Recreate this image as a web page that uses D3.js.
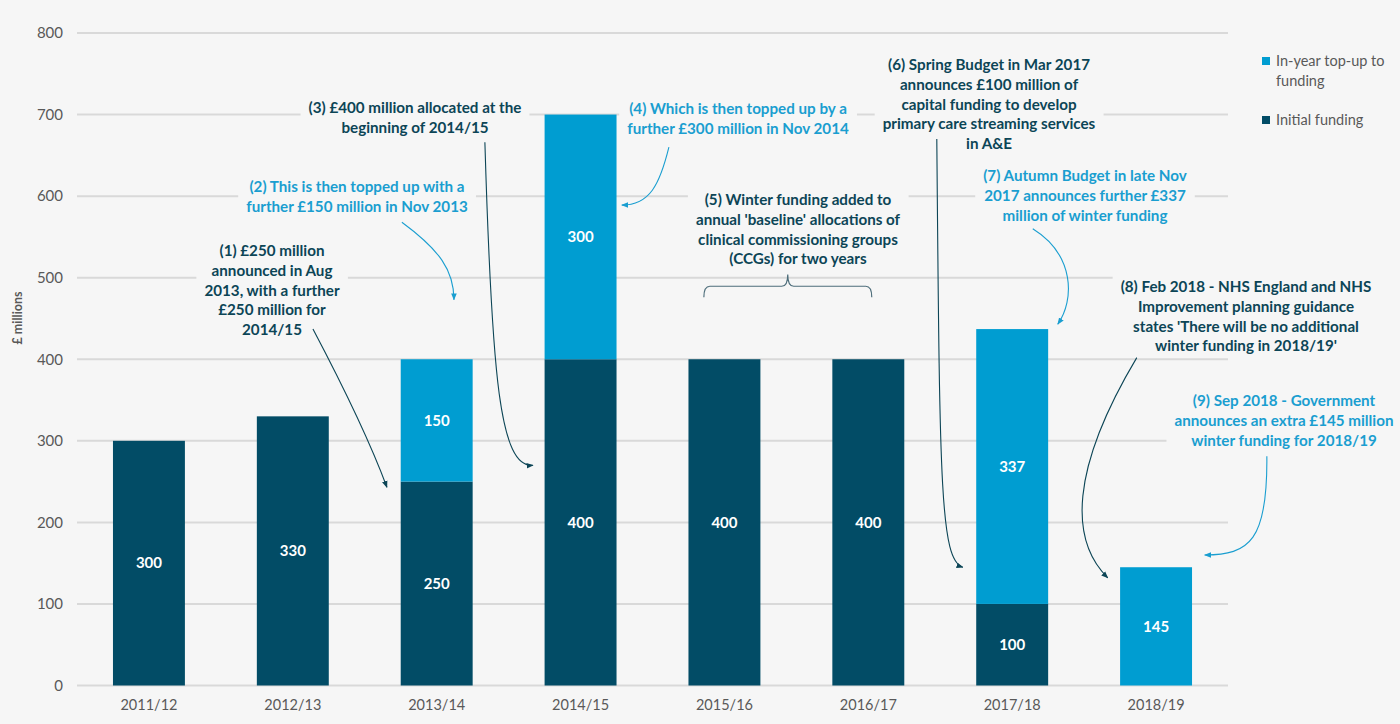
<!DOCTYPE html>
<html lang="en">
<head>
<meta charset="UTF-8">
<title>Winter funding</title>
<style>
  body { margin: 0; background: #f6f6f6; }
  svg { display: block; font-family: Lato, "Open Sans", sans-serif; }
</style>
</head>
<body>
<svg id="chart" width="1400" height="724"></svg>
<script src="https://d3js.org/d3.v7.min.js"></script>
<script>
// data
const categories = ["2011/12", "2012/13", "2013/14", "2014/15", "2015/16", "2016/17", "2017/18", "2018/19"];
const initialFunding = [300, 330, 250, 400, 400, 400, 100, 0];
const topUpFunding = [0, 0, 150, 300, 0, 0, 337, 145];
const yTicks = [0, 100, 200, 300, 400, 500, 600, 700, 800];
const seriesNames = ["In-year top-up to funding", "Initial funding"];

const dark = "#024c66", light = "#009dd1";
const darkText = "#0c4556", lightText = "#1a9ed0", grey = "#595959", bg = "#f6f6f6";

const svg = d3.select("#chart");

const x = d3.scaleBand().domain(categories).range([77, 1228]).paddingInner(0.5).paddingOuter(0.25);
const y = d3.scaleLinear().domain([0, 800]).range([685.5, 33]);
// position by fractional category index (for annotations)
const xi = i => x(categories[0]) + x.bandwidth() / 2 + i * x.step();

// gridlines
svg.append("g").selectAll("line").data(yTicks).join("line")
    .attr("x1", 77).attr("x2", 1228)
    .attr("y1", d => y(d)).attr("y2", d => y(d))
    .attr("stroke", "#d9d9d9").attr("stroke-width", 2);

// y axis labels
const yAxis = svg.append("g").attr("transform", "translate(63,0)")
    .call(d3.axisLeft(y).tickValues(yTicks).tickSize(0).tickPadding(0));
yAxis.select(".domain").remove();
yAxis.selectAll("text").attr("fill", grey).style("font-size", "15px").style("font-family", "Lato");

svg.append("text")
    .attr("transform", "translate(22,318) rotate(-90)")
    .attr("text-anchor", "middle")
    .attr("fill", grey).style("font-size", "12.5px").style("font-weight", "bold")
    .text("£ millions");

// x axis labels
const xAxis = svg.append("g").attr("transform", `translate(0,${y(0)})`)
    .call(d3.axisBottom(x).tickSize(0).tickPadding(14));
xAxis.select(".domain").remove();
xAxis.selectAll("text").attr("fill", grey).style("font-size", "14.5px").style("font-family", "Lato");

// stacked bars
const rows = categories.map((c, i) => ({ cat: c, initial: initialFunding[i], topup: topUpFunding[i] }));
const stack = d3.stack().keys(["initial", "topup"])(rows);
const colour = { initial: dark, topup: light };

const layers = svg.append("g").selectAll("g").data(stack).join("g")
    .attr("fill", d => colour[d.key]);
layers.selectAll("rect").data(d => d.filter(s => s[1] > s[0])).join("rect")
    .attr("x", d => x(d.data.cat))
    .attr("width", x.bandwidth())
    .attr("y", d => y(d[1]))
    .attr("height", d => y(d[0]) - y(d[1]));
layers.selectAll("text").data(d => d.filter(s => s[1] > s[0])).join("text")
    .attr("x", d => x(d.data.cat) + x.bandwidth() / 2)
    .attr("y", d => y((d[0] + d[1]) / 2))
    .attr("dy", "0.35em")
    .attr("text-anchor", "middle")
    .attr("fill", "#fff").style("font-size", "15px").style("font-weight", "bold")
    .text(d => d[1] - d[0]);

// legend
const legend = svg.append("g");
[[seriesNames[0], light, 61], [seriesNames[1], dark, 120]].forEach(([name, col, ly]) => {
    legend.append("rect").attr("x", 1262).attr("y", ly - 4).attr("width", 8).attr("height", 8).attr("fill", col);
    const words = name === seriesNames[0] ? ["In-year top-up to", "funding"] : [name];
    words.forEach((w, k) => legend.append("text")
        .attr("x", 1276).attr("y", ly + k * 20).attr("dy", "0.35em")
        .attr("fill", grey).style("font-size", "14.5px").text(w));
});

// annotations
const notes = [
    { cx: 272, cy: 251, col: darkText, lines: ["(1) £250 million", "announced in Aug", "2013, with a further", "£250 million for", "2014/15"] },
    { cx: 357, cy: 187, col: lightText, lines: ["(2) This is then topped up with a", "further £150 million in Nov 2013"] },
    { cx: 415, cy: 108, col: darkText, lines: ["(3) £400 million allocated at the", "beginning of 2014/15"] },
    { cx: 738, cy: 109, col: lightText, lines: ["(4) Which is then topped up by a", "further £300 million in Nov 2014"] },
    { cx: 798, cy: 200, col: darkText, lines: ["(5) Winter funding added to", "annual 'baseline' allocations of", "clinical commissioning groups", "(CCGs) for two years"] },
    { cx: 989, cy: 65, col: darkText, lines: ["(6) Spring Budget in Mar 2017", "announces £100 million of", "capital funding to develop", "primary care streaming services", "in A&E"] },
    { cx: 1085, cy: 176, col: lightText, lines: ["(7) Autumn Budget in late Nov", "2017 announces further £337", "million of winter funding"] },
    { cx: 1246, cy: 287, col: darkText, lines: ["(8) Feb 2018 - NHS England and NHS", "Improvement planning guidance", "states 'There will be no additional", "winter funding in 2018/19'"] },
    { cx: 1284, cy: 401, col: lightText, lines: ["(9) Sep 2018 - Government", "announces an extra £145 million", "winter funding for 2018/19"] }
];

const noteG = svg.append("g");
notes.forEach(n => {
    const g = noteG.append("g");
    const bgRect = g.append("rect").attr("fill", bg);
    const t = g.append("text").attr("text-anchor", "middle").attr("fill", n.col)
        .style("font-size", "15.2px").style("font-weight", "bold");
    n.lines.forEach((l, k) => t.append("tspan").attr("x", n.cx).attr("y", n.cy + k * 19.6).attr("dy", "0.35em").text(l));
    const b = t.node().getBBox();
    bgRect.attr("x", b.x - 8).attr("y", b.y - 2).attr("width", b.width + 16).attr("height", b.height + 4);
});

// arrows, points given as [category index, value]
const arrows = [
    { col: darkText, pts: [[1.14, 437], [1.40, 350], [1.57, 283], [1.654, 243]] },
    { col: lightText, pts: [[1.758, 568], [2.02, 534], [2.12, 509], [2.12, 473]] },
    { col: darkText, pts: [[2.335, 666], [2.384, 375], [2.44, 267], [2.669, 270]] },
    { col: lightText, pts: [[3.614, 660], [3.55, 614], [3.48, 589], [3.287, 589]] },
    { col: darkText, pts: [[5.476, 670], [5.497, 252], [5.497, 154], [5.657, 145]] },
    { col: lightText, pts: [[6.143, 560], [6.435, 528], [6.435, 473], [6.317, 443]] },
    { col: darkText, pts: [[6.866, 402], [6.40, 264], [6.40, 178], [6.664, 132]] },
    { col: lightText, pts: [[7.77, 281], [7.776, 178], [7.65, 160], [7.338, 160]] }
];

const defs = svg.append("defs");
[["arrDark", darkText], ["arrLight", lightText]].forEach(([id, col]) => {
    defs.append("marker").attr("id", id)
        .attr("viewBox", "0 0 10 10").attr("refX", 9).attr("refY", 5)
        .attr("markerWidth", 7).attr("markerHeight", 7).attr("markerUnits", "userSpaceOnUse")
        .attr("orient", "auto")
        .append("path").attr("d", "M0,1 L10,5 L0,9 Z").attr("fill", col);
});

const arrowG = svg.append("g").attr("fill", "none");
arrows.forEach(a => {
    const p = a.pts.map(([i, v]) => [xi(i), y(v)]);
    const path = d3.path();
    path.moveTo(...p[0]);
    path.bezierCurveTo(...p[1], ...p[2], ...p[3]);
    arrowG.append("path").attr("d", path.toString())
        .attr("stroke", a.col).attr("stroke-width", 1.1)
        .attr("marker-end", `url(#${a.col === darkText ? "arrDark" : "arrLight"})`);
});

// bracket over 2015/16 and 2016/17
const bL = xi(3.857), bR = xi(5.024), bM = xi(4.44);
const bY = y(489.5), bTip = y(476), bPeak = y(504);
const br = d3.path();
br.moveTo(bL, bTip);
br.quadraticCurveTo(bL, bY, bL + 6, bY);
br.lineTo(bM - 6, bY);
br.quadraticCurveTo(bM, bY, bM, bPeak);
br.quadraticCurveTo(bM, bY, bM + 6, bY);
br.lineTo(bR - 6, bY);
br.quadraticCurveTo(bR, bY, bR, bTip);
svg.append("path").attr("d", br.toString()).attr("fill", "none")
    .attr("stroke", "#4e6e7b").attr("stroke-width", 1.2);
</script>
</body>
</html>
